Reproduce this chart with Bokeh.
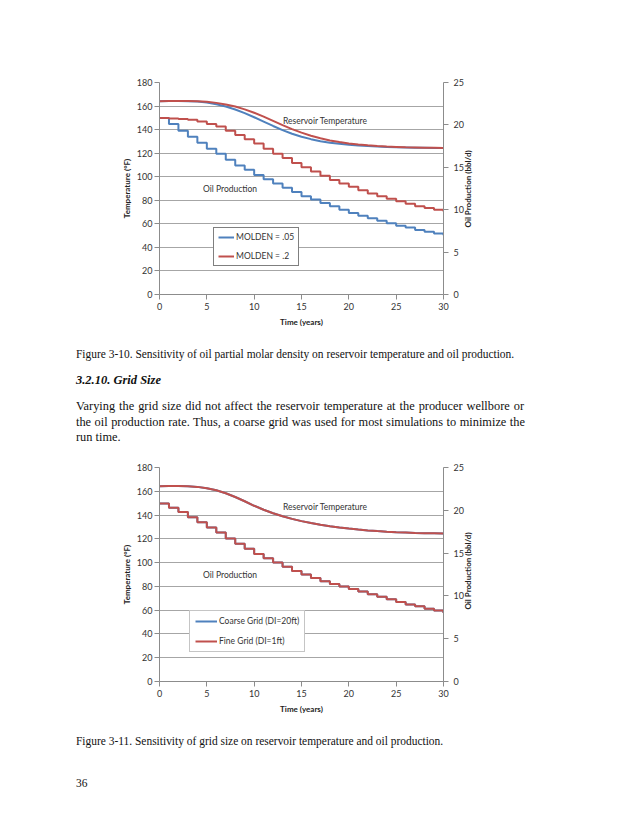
import math
from bokeh.plotting import figure
from bokeh.models import Range1d, LinearAxis, FixedTicker, Legend, LegendItem, Div, Label
from bokeh.layouts import column
from bokeh.embed import file_html
from bokeh.resources import INLINE

# ---------------- data ----------------
years = list(range(31))
time_ticks = [0, 5, 10, 15, 20, 25, 30]
temp_ticks = [0, 20, 40, 60, 80, 100, 120, 140, 160, 180]
oil_ticks = [0, 5, 10, 15, 20, 25]

# Figure 3-10 : MOLDEN sensitivity
molden05_temp = [164.0, 164.2, 164.3, 164.1, 163.8, 163.0, 161.6, 159.6, 157.1, 154.0, 150.5,
                 146.8, 143.1, 139.6, 136.5, 134.0, 131.9, 130.2, 128.9, 127.9, 127.1,
                 126.5, 126.0, 125.6, 125.3, 125.0, 124.8, 124.6, 124.5, 124.4, 124.3]
molden2_temp = [164.0, 164.2, 164.3, 164.2, 164.0, 163.6, 162.7, 161.4, 159.6, 157.2, 154.3,
                151.0, 147.4, 143.8, 140.4, 137.4, 134.8, 132.6, 130.8, 129.4, 128.3,
                127.4, 126.7, 126.1, 125.6, 125.3, 125.0, 124.8, 124.6, 124.5, 124.4]
molden05_oil = [20.8, 20.1, 19.3, 18.6, 17.9, 17.2, 16.6, 15.9, 15.2, 14.7, 14.1,
                13.6, 13.1, 12.6, 12.1, 11.6, 11.2, 10.8, 10.4, 10.0, 9.6,
                9.3, 9.0, 8.7, 8.4, 8.1, 7.9, 7.6, 7.4, 7.2, 7.0]
molden2_oil = [20.8, 20.75, 20.7, 20.6, 20.4, 20.1, 19.8, 19.3, 18.8, 18.3, 17.8,
               17.2, 16.6, 16.1, 15.5, 15.0, 14.5, 14.0, 13.5, 13.1, 12.7,
               12.3, 11.9, 11.6, 11.3, 11.0, 10.7, 10.4, 10.2, 10.0, 9.8]

# Figure 3-11 : grid size sensitivity
coarse_temp = [164.3, 164.4, 164.4, 164.2, 163.7, 162.6, 160.8, 158.3, 155.2, 151.6, 147.8,
               144.5, 141.5, 139.0, 136.8, 134.9, 133.3, 131.9, 130.6, 129.5, 128.6,
               127.8, 127.1, 126.5, 126.0, 125.6, 125.3, 125.0, 124.8, 124.6, 124.4]
fine_temp = [164.3, 164.4, 164.4, 164.2, 163.7, 162.6, 160.8, 158.3, 155.2, 151.6, 147.8,
             144.5, 141.5, 139.0, 136.8, 134.9, 133.3, 131.9, 130.6, 129.5, 128.6,
             127.8, 127.1, 126.5, 126.0, 125.6, 125.3, 125.0, 124.8, 124.6, 124.4]
coarse_oil = [20.8, 20.3, 19.8, 19.2, 18.6, 18.0, 17.4, 16.7, 16.1, 15.5, 14.9,
              14.4, 13.9, 13.4, 12.9, 12.5, 12.1, 11.7, 11.4, 11.1, 10.8,
              10.5, 10.2, 9.9, 9.6, 9.3, 9.0, 8.8, 8.5, 8.3, 8.0]
fine_oil = [20.8, 20.3, 19.8, 19.2, 18.6, 18.0, 17.4, 16.7, 16.1, 15.5, 14.9,
            14.4, 13.9, 13.4, 12.9, 12.5, 12.1, 11.7, 11.4, 11.1, 10.8,
            10.5, 10.2, 9.9, 9.6, 9.3, 9.0, 8.8, 8.5, 8.3, 8.0]

BLUE = "#4f81bd"
RED = "#c0504d"
CHART_FONT = "Lato"
SERIF = "'Liberation Serif', 'Times New Roman', serif"

temp_title = "Temperature (°F)"
oil_title = "Oil Production (bbl/d)"
time_title = "Time (years)"
caption1 = "Figure 3-10. Sensitivity of oil partial molar density on reservoir temperature and oil production."
heading = "3.2.10. Grid Size"
para = ["Varying the grid size did not affect the reservoir temperature at the producer wellbore or",
        "the oil production rate. Thus, a coarse grid was used for most simulations to minimize the",
        "run time."]
caption2 = "Figure 3-11. Sensitivity of grid size on reservoir temperature and oil production."
page_no = "36"


def make_chart(top, frame_h, bottom, series, legend_pos, legend_cfg, legend_border, title_start):
    p = figure(width=622, height=top + frame_h + bottom,
               x_range=Range1d(0, 30), y_range=Range1d(0, 180),
               output_backend="svg", toolbar_location=None,
               min_border_left=159, min_border_right=179,
               min_border_top=top, min_border_bottom=bottom)
    p.extra_y_ranges = {"oil": Range1d(0, 25)}
    p.outline_line_color = None
    p.background_fill_color = "white"
    p.border_fill_color = "white"
    p.xgrid.visible = False
    p.ygrid.ticker = FixedTicker(ticks=temp_ticks)
    p.ygrid.grid_line_color = "#a6a6a6"
    p.ygrid.grid_line_width = 1

    def style(ax, ticks):
        ax.ticker = FixedTicker(ticks=ticks)
        ax.axis_line_color = "#8c8c8c"
        ax.major_tick_line_color = "#8c8c8c"
        ax.major_tick_out = 5
        ax.major_tick_in = 0
        ax.minor_tick_line_color = None
        ax.major_label_text_font = CHART_FONT
        ax.major_label_text_font_size = "9px"
        ax.major_label_text_color = "#333333"
        ax.axis_label_text_font = CHART_FONT
        ax.axis_label_text_font_size = "8px"
        ax.axis_label_text_font_style = "bold"
        ax.axis_label_text_color = "#222222"

    xa = p.xaxis[0]
    style(xa, time_ticks)
    xa.axis_label = time_title
    xa.major_label_standoff = 3
    xa.axis_label_standoff = 4

    ya = p.yaxis[0]
    style(ya, temp_ticks)
    ya.axis_label = temp_title
    ya.major_label_standoff = 2
    ya.axis_label_standoff = 2

    ra = LinearAxis(y_range_name="oil")
    style(ra, oil_ticks)
    ra.major_label_standoff = 5
    p.add_layout(ra, "right")

    # secondary-axis title, rotated to read bottom-to-top like the original
    ta = LinearAxis(y_range_name="oil")
    ta.ticker = FixedTicker(ticks=[title_start])
    ta.major_label_overrides = {title_start: oil_title}
    ta.major_label_orientation = math.pi / 2
    ta.axis_line_color = None
    ta.major_tick_line_color = None
    ta.minor_tick_line_color = None
    ta.major_tick_out = 0
    ta.major_tick_in = 0
    ta.major_label_standoff = 2
    ta.major_label_text_font = CHART_FONT
    ta.major_label_text_font_size = "8px"
    ta.major_label_text_font_style = "bold"
    ta.major_label_text_color = "#222222"
    p.add_layout(ta, "right")

    items = []
    for name, temp, oil, color in series:
        r = p.line(years, temp, line_color=color, line_width=2)
        p.step(years, oil, mode="after", y_range_name="oil", line_color=color, line_width=2)
        items.append(LegendItem(label=name, renderers=[r]))

    p.add_layout(Label(x=17.5, y=147, text="Reservoir Temperature", text_align="center",
                       text_baseline="middle", text_font=CHART_FONT,
                       text_font_size="8.5px", text_color="#333333"))
    p.add_layout(Label(x=7.45, y=90, text="Oil Production", text_align="center",
                       text_baseline="middle", text_font=CHART_FONT,
                       text_font_size="8.5px", text_color="#333333"))

    pad, gh, sp, gw, lw = legend_cfg
    leg = Legend(items=items, location=legend_pos, orientation="vertical",
                 padding=pad, spacing=sp, glyph_height=gh, label_height=gh,
                 glyph_width=gw, label_width=lw, label_standoff=2,
                 label_text_font=CHART_FONT, label_text_font_size="8.5px",
                 label_text_color="#333333",
                 border_line_color=legend_border, border_line_width=1.2,
                 background_fill_color="white", background_fill_alpha=1.0,
                 margin=0)
    p.add_layout(leg, "center")
    return p


fig1 = make_chart(82, 212, 42,
                  [("MOLDEN = .05", molden05_temp, molden05_oil, BLUE),
                   ("MOLDEN = .2", molden2_temp, molden2_oil, RED)],
                  (54, 28), (4, 10, 9, 16, 52), "#000000", 7.9)

fig2 = make_chart(12, 214, 44,
                  [("Coarse Grid (DI=20ft)", coarse_temp, coarse_oil, BLUE),
                   ("Fine Grid (DI=1ft)", fine_temp, fine_oil, RED)],
                  (30, 29), (5, 10, 10, 22, 80), "#8c8c8c", 8.4)


def line_div(text, left, top, width=None, scale=0.88, extra=""):
    if width is None:
        body = "white-space:nowrap;"
    else:
        body = f"width:{width / scale:.1f}px;text-align:justify;text-align-last:justify;"
    return (f'<div style="position:absolute;left:{left}px;top:{top}px;{body}'
            f'transform:scaleX({scale});transform-origin:0 0;{extra}">{text}</div>')


def block(height, lines):
    return (f'<div style="position:relative;width:622px;height:{height}px;font-family:{SERIF};'
            f'font-size:13px;line-height:15px;color:#111;">' + "".join(lines) + '</div>')


mid_html = block(119, [
    line_div(caption1, 76, 10),
    line_div(heading, 76, 36, scale=0.96, extra="font-weight:bold;font-style:italic;"),
    line_div(para[0], 76, 62, width=448, scale=0.95),
    line_div(para[1], 76, 78, width=449, scale=0.95),
    line_div(para[2], 76, 93, scale=0.95),
])
div1 = Div(text=mid_html, width=622, height=119, margin=0)

bot_html = block(85, [
    line_div(caption2, 76, 8),
    line_div(page_no, 76, 50),
])
div2 = Div(text=bot_html, width=622, height=85, margin=0)

page = column(fig1, div1, fig2, div2, spacing=0)

with open("out.html", "w") as f:
    f.write(file_html(page, INLINE, title="Figure 3-10 / 3-11"))
